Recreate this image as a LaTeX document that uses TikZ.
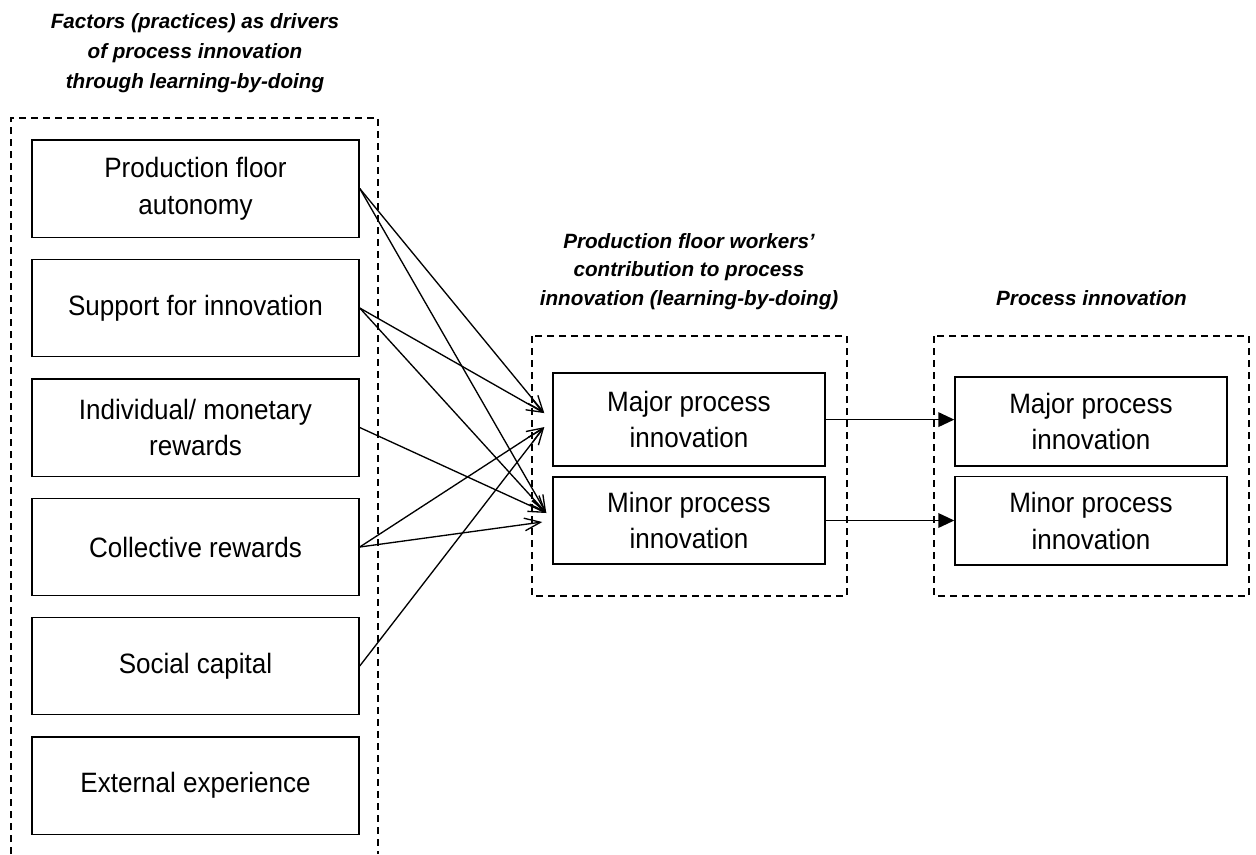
\documentclass[tikz,border=0pt]{standalone}
\usepackage{fontspec}
\setmainfont{Liberation Sans}
\newfontfamily\boxfont{Liberation Sans}[FakeStretch=0.93]
\usetikzlibrary{arrows.meta,calc}
\begin{document}
\begin{tikzpicture}[x=0.75pt,y=-0.75pt,
  box/.style={draw, line width=1.1pt, align=center, inner sep=0pt,
    font=\boxfont\fontsize{21}{27.4}\selectfont},
  factor/.style={box, minimum width=245.25pt, minimum height=73.1pt},
  innov/.style={box, minimum width=204pt},
  heading/.style={align=center, inner sep=0pt,
    font=\fontsize{15.5}{22.5}\selectfont\bfseries\itshape},
  group/.style={line width=1pt, dash pattern=on 5.25pt off 3.75pt},
  conn/.style={line width=1pt, -{Straight Barb[length=12pt,width=9.5pt]}},
  flow/.style={line width=1.2pt, -{Triangle[length=12pt,width=11pt]}}]
\useasboundingbox (0,0) rectangle (1256,854);

% headings (anchored at the baseline of their last line)
\node[heading, anchor=base] (h1) at (195,88)
  {Factors (practices) as drivers\\of process innovation\\through learning-by-doing};
\node[heading, anchor=base, font=\fontsize{15.5}{21.2}\selectfont\bfseries\itshape] (h2) at (689,305)
  {Production floor workers'\\contribution to process\\innovation (learning-by-doing)};
\node[heading, anchor=base] (h3) at (1091.5,305) {Process innovation};

% dashed groups
\draw[group] (11,854) -- (11,118) -- (378,118) -- (378,854);
\draw[group] (532,336) rectangle (847,596);
\draw[group] (934,336) rectangle (1249,596);

% factors
\node[factor] (f1) at (195.5,188.5) {Production floor\\autonomy};
\node[factor] (f2) at (195.5,308) {Support for innovation};
\node[factor] (f3) at (195.5,427.5) {Individual/ monetary\\rewards};
\node[factor] (f4) at (195.5,547) {Collective rewards};
\node[factor] (f5) at (195.5,666) {Social capital};
\node[factor] (f6) at (195.5,785.5) {External experience};

% workers' contribution
\node[innov, minimum height=69.75pt] (wmaj) at (689,419.6) {Major process\\innovation};
\node[innov, minimum height=65.25pt] (wmin) at (689,520.5) {Minor process\\innovation};

% process innovation
\node[innov, minimum height=66.75pt] (pmaj) at (1091,421.7) {Major process\\innovation};
\node[innov, minimum height=66.2pt] (pmin) at (1091,520.8) {Minor process\\innovation};

% arrow end points in front of the contribution boxes
\coordinate (majA) at ($(wmaj.west)+(-8,-6.5)$);
\coordinate (majB) at ($(wmaj.west)+(-8,7.5)$);
\coordinate (minA) at ($(wmin.west)+(-6,-7.5)$);
\coordinate (minB) at ($(wmin.west)+(-10,1.5)$);

\draw[conn] (f1.east) -- (majA);
\draw[conn] (f1.east) -- (minA);
\draw[conn] (f2.east) -- (majA);
\draw[conn] (f2.east) -- (minA);
\draw[conn] (f3.east) -- (minA);
\draw[conn] (f4.east) -- (majB);
\draw[conn] (f4.east) -- (minB);
\draw[conn] (f5.east) -- (majB);

\draw[flow] (wmaj.east) -- (wmaj.east -| pmaj.west);
\draw[flow] (wmin.east) -- (wmin.east -| pmin.west);
\end{tikzpicture}
\end{document}
